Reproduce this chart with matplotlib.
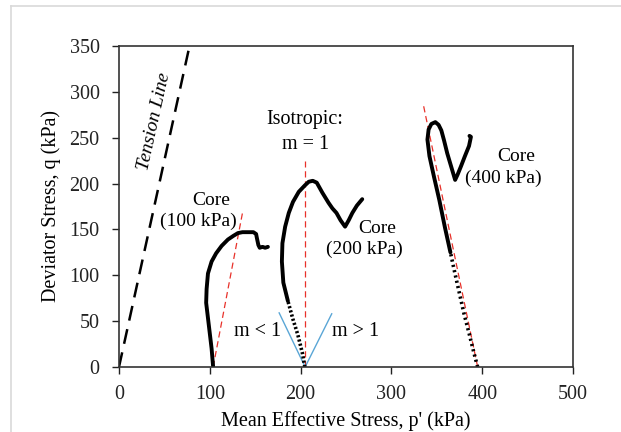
import numpy as np
import matplotlib.pyplot as plt
from matplotlib.lines import Line2D

plt.rcParams['font.family'] = ['Liberation Serif', 'DejaVu Serif']

# stress paths: p' (kPa), q (kPa)
core100_p = [103.7, 102, 99, 96, 96.5, 98, 102, 107, 113, 120, 126, 131, 136, 142, 148, 151, 152, 153.5, 155, 158, 161, 164]
core100_q = [0, 20, 45, 70, 85, 102, 115, 124, 132, 139, 143, 146, 147, 147, 147, 145, 140, 133, 130, 131, 130, 131]

core200_p = [204.7, 202, 197, 191.6, 186, 181, 179.4, 180, 183, 187, 191.6, 198, 204.7, 209, 213.4, 217.8, 224, 230.8, 235, 239.5, 244, 249, 253, 257, 262, 267.9]
core200_q = [0, 15, 35, 52, 72, 92, 115, 135, 153, 168, 180, 191, 198, 202, 203, 201, 190, 179, 173, 168, 160, 153, 160, 168, 176, 183]

core400_p = [395, 391, 386, 380, 375, 370, 365, 359, 352.8, 347, 341.9, 339.7, 341, 344, 348.4, 352, 355, 358, 361.5, 366, 370.2, 373, 376.7, 381, 385.5, 387.6, 386]
core400_q = [0, 15, 35, 58, 80, 102, 125, 152, 182, 207, 230, 248, 259, 265, 267, 264, 258, 247, 233, 218, 204, 210, 219, 230, 241, 251, 252]

# split point between dotted (sparse data) and solid part
split200 = 4
split400 = 6

tension_p = [0, 77]
tension_q = [0, 347]

red100_p = [103.7, 136]
red100_q = [0, 168]
red200_p = [205, 205]
red200_q = [0, 225]
red400_p = [395, 335.4]
red400_q = [0, 285]

blue_left_p = [205, 176.4]
blue_left_q = [0, 59]
blue_right_p = [205, 234.3]
blue_right_q = [0, 58]

fig = plt.figure(figsize=(6.21, 4.32), dpi=100)
ax = fig.add_axes([0.1916, 0.1505, 0.7311, 0.743])

ax.plot(tension_p, tension_q, color='black', lw=1.8, ls=(0, (6, 3.5)))

ax.plot(red100_p, red100_q, color='#e8312a', lw=0.9, ls=(0, (5, 3)))
ax.plot(red200_p, red200_q, color='#e8312a', lw=0.9, ls=(0, (5, 3)))
ax.plot(red400_p, red400_q, color='#e8312a', lw=0.9, ls=(0, (5, 3)))

ax.plot(blue_left_p, blue_left_q, color='#5aa6d6', lw=1.0)
ax.plot(blue_right_p, blue_right_q, color='#5aa6d6', lw=1.0)

ax.plot(core100_p, core100_q, color='black', lw=2.8, solid_capstyle='round')
ax.plot(core200_p[:split200 + 1], core200_q[:split200 + 1], color='black', lw=2.6, ls=(0, (0.6, 0.6)))
ax.plot(core200_p[split200:], core200_q[split200:], color='black', lw=2.8, solid_capstyle='round')
ax.plot(core400_p[:split400 + 1], core400_q[:split400 + 1], color='black', lw=2.6, ls=(0, (0.6, 0.9)))
ax.plot(core400_p[split400:], core400_q[split400:], color='black', lw=2.8, solid_capstyle='round')

ax.set_xlim(0, 500)
ax.set_ylim(0, 350)
ax.set_xticks(np.arange(0, 501, 100))
ax.set_yticks(np.arange(0, 351, 50))
ax.tick_params(direction='out', length=5, width=1, labelsize=14.5, colors='#222222')
ax.tick_params(axis='x', pad=8)
ax.tick_params(axis='y', pad=9)
for s in ax.spines.values():
    s.set_color('#333333')
    s.set_linewidth(1.2)

ax.set_xlabel("Mean Effective Stress, p' (kPa)", fontsize=14.5, labelpad=5)
ax.set_ylabel("Deviator Stress, q (kPa)", fontsize=14.5, labelpad=6)

ax.text(39, 268, 'Tension Line', rotation=77.5, style='italic', fontsize=14, ha='center', va='center')
ax.text(205, 270, 'Isotropic:', fontsize=14.5, ha='center', va='center')
ax.text(205, 242.5, 'm = 1', fontsize=14.5, ha='center', va='center')

ax.text(102, 181.6, 'Core', fontsize=14, ha='center', va='center')
ax.text(87, 159, '(100 kPa)', fontsize=14, ha='center', va='center')
ax.text(284, 150.7, 'Core', fontsize=14, ha='center', va='center')
ax.text(270, 128, '(200 kPa)', fontsize=14, ha='center', va='center')
ax.text(437, 230, 'Core', fontsize=14, ha='center', va='center')
ax.text(423, 205.6, '(400 kPa)', fontsize=14, ha='center', va='center')

ax.text(152.4, 39, 'm < 1', fontsize=14.5, ha='center', va='center')
ax.text(260, 39, 'm > 1', fontsize=14.5, ha='center', va='center')

# light frame around the picture
fig.add_artist(Line2D([11 / 621, 11 / 621], [0, 1 - 6 / 432], color='#d9d9d9', lw=1.2))
fig.add_artist(Line2D([11 / 621, 1], [1 - 6 / 432, 1 - 6 / 432], color='#d9d9d9', lw=1.2))

fig.savefig('out.png', dpi=100)
